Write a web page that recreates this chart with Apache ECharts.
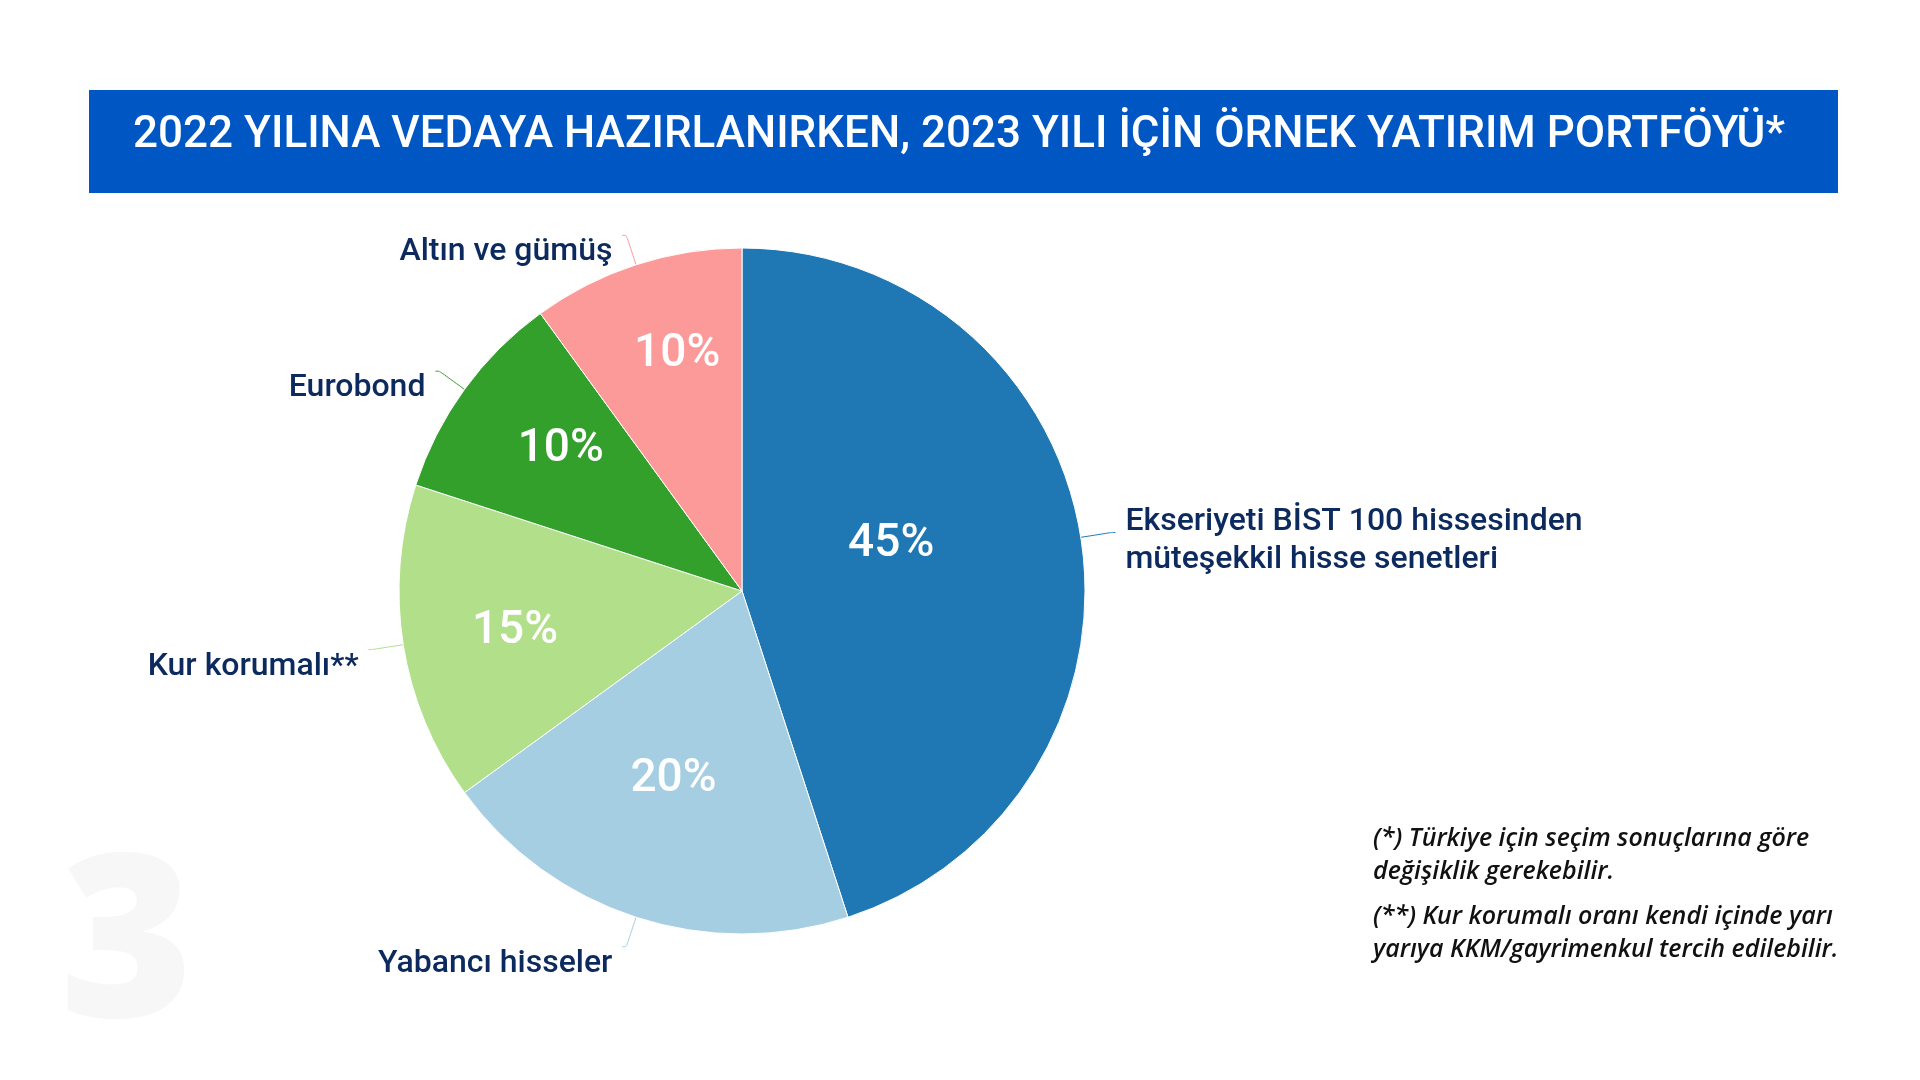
<!DOCTYPE html>
<html>
<head>
<meta charset="utf-8">
<style>
html,body{margin:0;padding:0;background:#fff;}
#chart{width:1920px;height:1080px;}
</style>
<script src="https://cdn.jsdelivr.net/npm/echarts@6/dist/echarts.min.js"></script>
</head>
<body>
<div id="chart"></div>
<script>
// ---- data ----
const titleText = '2022 YILINA VEDAYA HAZIRLANIRKEN, 2023 YILI İÇİN ÖRNEK YATIRIM PORTFÖYÜ*';
const categories = [
  'Ekseriyeti BİST 100 hissesinden\nmüteşekkil hisse senetleri',
  'Yabancı hisseler',
  'Kur korumalı**',
  'Eurobond',
  'Altın ve gümüş'
];
const values = [45, 20, 15, 10, 10];
const sliceColors = ['#1f78b4', '#a6cee3', '#b2df8a', '#33a02c', '#fb9a99'];
const footnote1 = '(*) Türkiye için seçim sonuçlarına göre\ndeğişiklik gerekebilir.';
const footnote2 = '(**) Kur korumalı oranı kendi içinde yarı\nyarıya KKM/gayrimenkul tercih edilebilir.';
const watermark = '3';

// ---- layout ----
const pieCenter = [742, 591];
const pieRadius = 343;
const pctRadiusFrac = [0.46, 0.57, 0.67, 0.68, 0.73];
const pctAngleShift = [-10, 2.5, 0, 3, 3];
const pctDy = 5;
const spacerKey = ['sp1', 'sp2', 'sp2', 'sp2', 'sp2'];

const total = values.reduce((a, b) => a + b, 0);
const midAngles = [];
let acc = 0;
values.forEach(v => { midAngles.push((acc + v / 2) / total * 360); acc += v; });

const chart = echarts.init(document.getElementById('chart'), null, {renderer: 'canvas'});

const labelTextStyle = {color: '#0c2a5e', fontFamily: 'Roboto', fontWeight: 500, fontSize: 32, lineHeight: 38};

const outerData = categories.map((c, i) => ({
  name: c, value: values[i],
  itemStyle: {color: sliceColors[i]}
}));
const innerData = categories.map((c, i) => ({name: c, value: values[i]}));

const option = {
  backgroundColor: '#ffffff',
  animation: false,
  graphic: [
    {type: 'rect', shape: {x: 89, y: 90, width: 1749, height: 103}, style: {fill: '#0057c4'}, z: 1},
    {type: 'text', x: 959, y: 136, style: {text: titleText, fill: '#ffffff', font: '500 44px Roboto', textAlign: 'center', textVerticalAlign: 'middle'}, z: 2},
    {type: 'text', x: 60, y: 952, style: {text: watermark, fill: '#f7f7f7', font: '800 228px "Open Sans"', textAlign: 'left', textVerticalAlign: 'middle'}, z: 0},
    {type: 'text', x: 1373, y: 822, style: {text: footnote1, fill: '#111111', font: 'italic 600 25px "Open Sans"', lineHeight: 33, textAlign: 'left', textVerticalAlign: 'top'}, z: 2},
    {type: 'text', x: 1373, y: 900, style: {text: footnote2, fill: '#111111', font: 'italic 600 25px "Open Sans"', lineHeight: 33, textAlign: 'left', textVerticalAlign: 'top'}, z: 2}
  ],
  series: [
    {
      type: 'pie',
      center: pieCenter,
      radius: pieRadius,
      startAngle: 90,
      clockwise: true,
      avoidLabelOverlap: false,
      silent: true,
      itemStyle: {borderColor: '#ffffff', borderWidth: 1},
      label: {
        show: true,
        position: 'outside',
        alignTo: 'none',
        distanceToLabelLine: 10,
        formatter: function (p) {
          const lines = p.name.split('\n').map(s => '{t|' + s + '}');
          return '{' + spacerKey[p.dataIndex] + '| }\n' + lines.join('\n');
        },
        rich: {
          t: labelTextStyle,
          sp1: {fontSize: 1, lineHeight: 17, height: 17},
          sp2: {fontSize: 1, lineHeight: 34, height: 34}
        }
      },
      labelLine: {show: true, length: 31, length2: 4, smooth: 0.3, lineStyle: {width: 1}},
      emphasis: {disabled: true},
      data: outerData
    },
    {
      type: 'pie',
      center: pieCenter,
      radius: pieRadius,
      startAngle: 90,
      clockwise: true,
      avoidLabelOverlap: false,
      silent: true,
      itemStyle: {color: 'rgba(0,0,0,0)', borderWidth: 0},
      label: {
        show: true,
        position: 'inside',
        color: '#ffffff',
        fontFamily: 'Roboto',
        fontWeight: 500,
        fontSize: 46,
        formatter: '{c}%'
      },
      labelLine: {show: false},
      labelLayout: function (p) {
        const i = p.dataIndex;
        const a = (midAngles[i] + pctAngleShift[i]) * Math.PI / 180;
        const r = pctRadiusFrac[i] * pieRadius;
        return {
          x: pieCenter[0] + r * Math.sin(a),
          y: pieCenter[1] - r * Math.cos(a) + pctDy,
          align: 'center',
          verticalAlign: 'middle'
        };
      },
      emphasis: {disabled: true},
      data: innerData
    }
  ]
};
chart.setOption(option);
</script>
</body>
</html>
